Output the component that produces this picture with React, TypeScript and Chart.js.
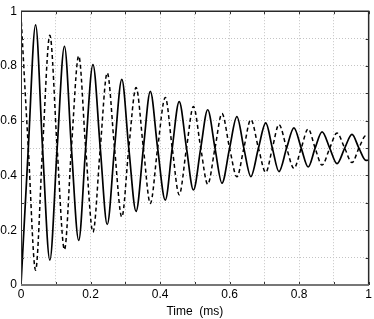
import React, { useEffect, useRef } from "react";
import { Chart, registerables } from "chart.js";

Chart.register(...registerables);

const timeMs = [
  0, 0.021, 0.042, 0.062, 0.083, 0.104, 0.125, 0.145, 0.166, 0.186, 0.207, 0.228,
  0.248, 0.269, 0.29, 0.31, 0.331, 0.352, 0.372, 0.393, 0.415, 0.435, 0.455, 0.476,
  0.496, 0.517, 0.537, 0.558, 0.578, 0.6, 0.621, 0.641, 0.661, 0.683, 0.704, 0.723,
  0.742, 0.764, 0.785, 0.806, 0.826, 0.846, 0.866, 0.888, 0.909, 0.931, 0.952, 0.972,
  0.992, 1.0,
];

const solidSignal = [
  0, 0.5, 0.95, 0.5, 0.091, 0.5, 0.872, 0.5, 0.163, 0.5, 0.805, 0.5,
  0.221, 0.5, 0.751, 0.5, 0.269, 0.5, 0.707, 0.5, 0.31, 0.5, 0.67, 0.5,
  0.347, 0.5, 0.64, 0.5, 0.372, 0.5, 0.615, 0.5, 0.396, 0.5, 0.592, 0.5,
  0.414, 0.5, 0.574, 0.5, 0.431, 0.5, 0.559, 0.5, 0.443, 0.5, 0.55, 0.5,
  0.455, 0.456,
];

const dashedSignal = [
  0.985, 0.5, 0.054, 0.5, 0.912, 0.5, 0.129, 0.5, 0.837, 0.5, 0.193, 0.5,
  0.775, 0.5, 0.248, 0.5, 0.721, 0.5, 0.298, 0.5, 0.685, 0.5, 0.33, 0.5,
  0.652, 0.5, 0.368, 0.5, 0.626, 0.5, 0.395, 0.5, 0.604, 0.5, 0.411, 0.5,
  0.586, 0.5, 0.426, 0.5, 0.57, 0.5, 0.438, 0.5, 0.555, 0.5, 0.447, 0.5,
  0.546, 0.545,
];

const xTickLabels = ["0", "0.2", "0.4", "0.6", "0.8", "1"];
const yTickLabels = ["0", "0.2", "0.4", "0.6", "0.8", "1"];

const FONT = "'Liberation Sans', Arial, sans-serif";

const framePlugin = {
  id: "frame",
  afterDraw(chart: any) {
    const { ctx, chartArea: a, scales } = chart;
    ctx.save();
    ctx.strokeStyle = "#333";
    ctx.lineWidth = 1;
    const tl = 3;
    scales.x.ticks.forEach((t: any) => {
      const px = Math.round(scales.x.getPixelForValue(t.value)) + 0.5;
      ctx.beginPath();
      ctx.moveTo(px, a.bottom);
      ctx.lineTo(px, a.bottom - tl);
      ctx.moveTo(px, a.top);
      ctx.lineTo(px, a.top + tl);
      ctx.stroke();
    });
    scales.y.ticks.forEach((t: any) => {
      const py = Math.round(scales.y.getPixelForValue(t.value)) + 0.5;
      ctx.beginPath();
      ctx.moveTo(a.left, py);
      ctx.lineTo(a.left + tl, py);
      ctx.moveTo(a.right, py);
      ctx.lineTo(a.right - tl, py);
      ctx.stroke();
    });
    ctx.strokeStyle = "#2a2a2a";
    ctx.lineWidth = 1.5;
    ctx.beginPath();
    ctx.moveTo(a.left, a.top);
    ctx.lineTo(a.right, a.top);
    ctx.lineTo(a.right, a.bottom);
    ctx.stroke();
    ctx.strokeStyle = "#333";
    ctx.lineWidth = 1;
    ctx.beginPath();
    ctx.moveTo(a.left + 0.5, a.top);
    ctx.lineTo(a.left + 0.5, a.bottom);
    ctx.stroke();
    ctx.strokeStyle = "#777";
    ctx.lineWidth = 2;
    ctx.beginPath();
    ctx.moveTo(a.left, a.bottom);
    ctx.lineTo(a.right, a.bottom);
    ctx.stroke();
    ctx.restore();
  },
};

export default function App() {
  const ref = useRef<HTMLCanvasElement | null>(null);

  useEffect(() => {
    document.body.style.margin = "0";
    const canvas = ref.current;
    if (!canvas) return;
    const chart = new Chart(canvas, {
      type: "line",
      data: {
        datasets: [
          {
            label: "solid",
            data: timeMs.map((t, i) => ({ x: t, y: solidSignal[i] })),
            borderColor: "#000",
            borderWidth: 1.7,
            pointRadius: 0,
            fill: false,
            cubicInterpolationMode: "monotone",
          },
          {
            label: "dashed",
            data: timeMs.map((t, i) => ({ x: t, y: dashedSignal[i] })),
            borderColor: "#000",
            borderWidth: 1.5,
            borderDash: [4, 3],
            pointRadius: 0,
            fill: false,
            cubicInterpolationMode: "monotone",
          },
        ],
      },
      options: {
        animation: false,
        responsive: false,
        maintainAspectRatio: false,
        layout: { padding: { top: 9, right: 4, left: 0, bottom: 0 } },
        plugins: {
          legend: { display: false },
          tooltip: { enabled: false },
        },
        scales: {
          x: {
            type: "linear",
            min: 0,
            max: 1,
            afterFit: (s: any) => {
              s.height = 34;
            },
            ticks: {
              stepSize: 0.1,
              autoSkip: false,
              maxRotation: 0,
              padding: 2,
              color: "#000",
              font: { family: FONT, size: 12 },
              callback: (v: any) => {
                const k = Math.round(Number(v) * 10);
                return k % 2 === 0 ? xTickLabels[k / 2] : "";
              },
            },
            grid: {
              color: "#c4c4c4",
              lineWidth: 1,
              drawTicks: false,
            },
            border: { display: false, dash: [1, 2] },
            title: {
              display: true,
              text: "Time  (ms)",
              color: "#000",
              font: { family: FONT, size: 12 },
              padding: { top: 0, bottom: 0 },
            },
          },
          y: {
            type: "linear",
            min: 0,
            max: 1,
            afterFit: (s: any) => {
              s.width = 21;
            },
            ticks: {
              stepSize: 0.1,
              autoSkip: false,
              padding: 4,
              color: "#000",
              font: { family: FONT, size: 12 },
              callback: (v: any) => {
                const k = Math.round(Number(v) * 10);
                return k % 2 === 0 ? yTickLabels[k / 2] : "";
              },
            },
            grid: {
              color: "#c4c4c4",
              lineWidth: 1,
              drawTicks: false,
            },
            border: { display: false, dash: [1, 2] },
          },
        },
      },
      plugins: [framePlugin],
    });
    return () => chart.destroy();
  }, []);

  return (
    <div style={{ width: 374, height: 319 }}>
      <canvas ref={ref} width={374} height={319} style={{ display: "block" }} />
    </div>
  );
}
